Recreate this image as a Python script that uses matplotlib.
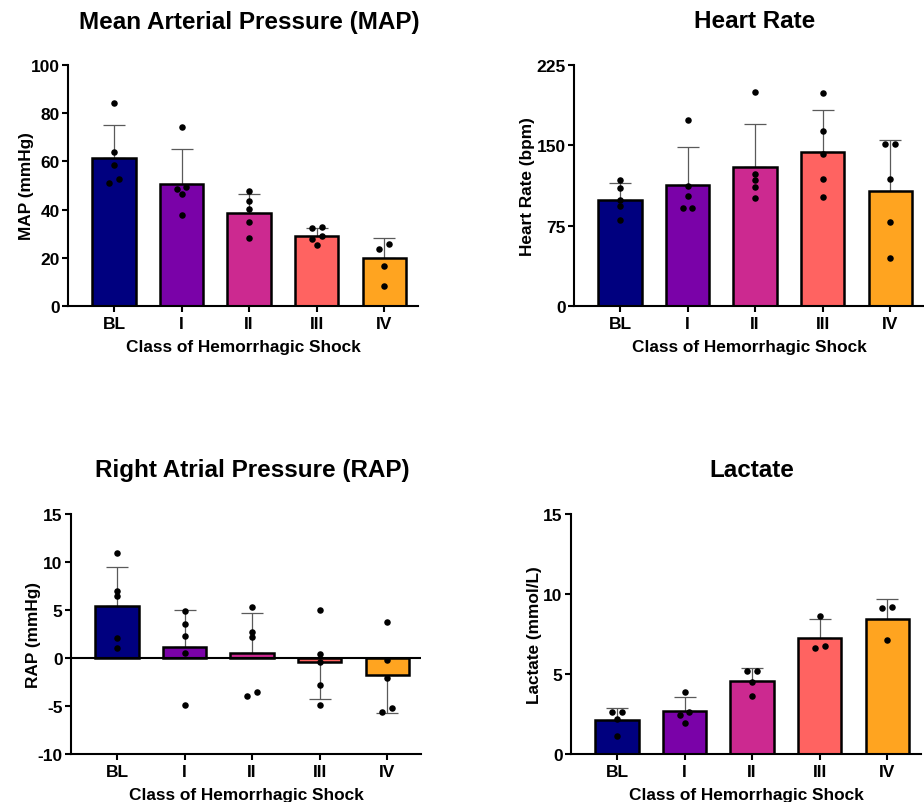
#!/usr/bin/env python3
"""
Hemorrhagic shock panels: MAP, heart rate, RAP and lactate by shock class
Bars = mean, whisker = SD (one-sided), dots = individual animals
"""

import numpy as np
import matplotlib
matplotlib.use('Agg')
import matplotlib.pyplot as plt

plt.rcParams['font.family'] = ['Liberation Sans', 'DejaVu Sans']
plt.rcParams['font.weight'] = 'bold'
plt.rcParams['axes.unicode_minus'] = False

classes = ['BL', 'I', 'II', 'III', 'IV']
bar_colors = ['#00007F', '#7A02A8', '#CC2990', '#FF6361', '#FFA420']

# Mean arterial pressure (mmHg)
map_mean = [61.6, 50.8, 38.5, 28.9, 19.9]
map_sd = [13.7, 14.3, 8.0, 3.5, 8.2]
map_points = [[84.1, 63.7, 58.7, 52.6, 51.0],
              [74.2, 49.2, 48.5, 46.5, 37.7],
              [47.9, 43.4, 40.2, 34.8, 28.1],
              [32.8, 32.3, 29.1, 28.0, 25.3],
              [25.6, 23.8, 16.6, 8.4]]

# Heart rate (bpm)
hr_mean = [99.1, 113.1, 129.6, 143.7, 107.8]
hr_sd = [15.3, 35.2, 40.5, 39.2, 47.4]
hr_points = [[117.5, 110.3, 99.4, 93.8, 80.4],
             [173.9, 112.2, 102.5, 91.3, 91.3],
             [200.1, 123.7, 117.5, 110.9, 100.7],
             [198.5, 163.6, 141.5, 118.7, 101.9],
             [150.8, 150.8, 119.0, 78.2, 44.9]]

# Right atrial pressure (mmHg)
rap_mean = [5.43, 1.17, 0.47, -0.46, -1.75]
rap_sd = [4.09, 3.88, 4.20, 3.82, 3.95]
rap_points = [[10.97, 6.95, 6.43, 2.10, 1.06],
              [4.88, 3.52, 2.24, 0.54, -4.91],
              [5.36, 2.73, 2.20, -3.55, -4.00],
              [4.98, 0.37, -0.43, -2.86, -4.91],
              [3.76, -0.26, -2.09, -5.18, -5.60]]

# Lactate (mmol/L)
lac_mean = [2.10, 2.67, 4.56, 7.27, 8.42]
lac_sd = [0.75, 0.89, 0.84, 1.19, 1.25]
lac_points = [[2.63, 2.63, 2.19, 1.10],
              [3.90, 2.65, 2.42, 1.92],
              [5.21, 5.21, 4.50, 3.60],
              [8.63, 6.73, 6.65],
              [9.21, 9.10, 7.10]]


def spread(values, ylim, height_px, step=0.072, thr_px=4.8):
    """Horizontal offsets so that overlapping dots sit side by side"""
    vals = sorted(values, reverse=True)
    px = np.array(vals) / (ylim[1] - ylim[0]) * height_px
    offsets = []
    cluster = [0]
    for i in range(1, len(vals) + 1):
        if i < len(vals) and px[i - 1] - px[i] < thr_px:
            cluster.append(i)
            continue
        if len(cluster) == 1:
            offsets.append(0.0)
        else:
            for k in range(len(cluster)):
                offsets.append(step if k % 2 == 0 else -step)
        cluster = [i]
    return vals, offsets


def panel(ax, title, ylabel, means, sds, points, ylim, yticks, title_x,
          ypad):
    x = np.arange(len(classes))
    ax.bar(x, means, width=0.64, color=bar_colors, edgecolor='black',
           linewidth=1.8, zorder=2)
    lower = [sd if m < 0 else 0 for m, sd in zip(means, sds)]
    upper = [0 if m < 0 else sd for m, sd in zip(means, sds)]
    ax.errorbar(x, means, yerr=[lower, upper], fmt='none', ecolor='#5a5a5a',
                elinewidth=0.9, capsize=8, capthick=0.9, zorder=1)

    h_px = ax.get_position().height * 803
    for i, pts in enumerate(points):
        vals, offs = spread(pts, ylim, h_px)
        ax.scatter(x[i] + np.array(offs), vals, s=22, color='black', zorder=3,
                   linewidths=0)

    if ylim[0] < 0:
        ax.axhline(0, color='black', linewidth=1.5, zorder=2.5)

    ax.set_xlim(-0.68, 4.5)
    ax.set_ylim(*ylim)
    ax.set_yticks(yticks)
    ax.set_xticks(x)
    ax.set_xticklabels(classes)
    ax.tick_params(axis='both', labelsize=12.5, length=4, width=1.5, pad=2)
    ax.tick_params(axis='x', pad=3)
    for lab in ax.get_xticklabels() + ax.get_yticklabels():
        lab.set_fontweight('bold')
    ax.spines['top'].set_visible(False)
    ax.spines['right'].set_visible(False)
    ax.spines['left'].set_linewidth(1.5)
    ax.spines['bottom'].set_linewidth(1.5)
    ax.set_xlabel('Class of Hemorrhagic Shock', fontsize=12.4,
                  fontweight='bold', labelpad=6)
    ax.set_ylabel(ylabel, fontsize=12.4, fontweight='bold', labelpad=ypad)

    pos = ax.get_position()
    fig = ax.figure
    fig.text(title_x / 924, pos.y1 + 44 / 803, title, fontsize=17.5,
             fontweight='bold', ha='center', va='center')


fig = plt.figure(figsize=(9.24, 8.03), dpi=100)

ax1 = fig.add_axes([68 / 924, 1 - 307 / 803, 350 / 924, 241 / 803])
ax2 = fig.add_axes([574 / 924, 1 - 307 / 803, 350 / 924, 241 / 803])
ax3 = fig.add_axes([71 / 924, 1 - 755 / 803, 350 / 924, 240 / 803])
ax4 = fig.add_axes([571 / 924, 1 - 755 / 803, 350 / 924, 240 / 803])

panel(ax1, 'Mean Arterial Pressure (MAP)', 'MAP (mmHg)', map_mean, map_sd,
      map_points, (0, 100), [0, 20, 40, 60, 80, 100], 249, -2.5)
panel(ax2, 'Heart Rate', 'Heart Rate (bpm)', hr_mean, hr_sd,
      hr_points, (0, 225), [0, 75, 150, 225], 755, 0.8)
panel(ax3, 'Right Atrial Pressure (RAP)', 'RAP (mmHg)', rap_mean, rap_sd,
      rap_points, (-10, 15), [-10, -5, 0, 5, 10, 15], 252, -2.5)
panel(ax4, 'Lactate', 'Lactate (mmol/L)', lac_mean, lac_sd,
      lac_points, (0, 15), [0, 5, 10, 15], 752, 0.8)

plt.savefig('out.png', dpi=100)
